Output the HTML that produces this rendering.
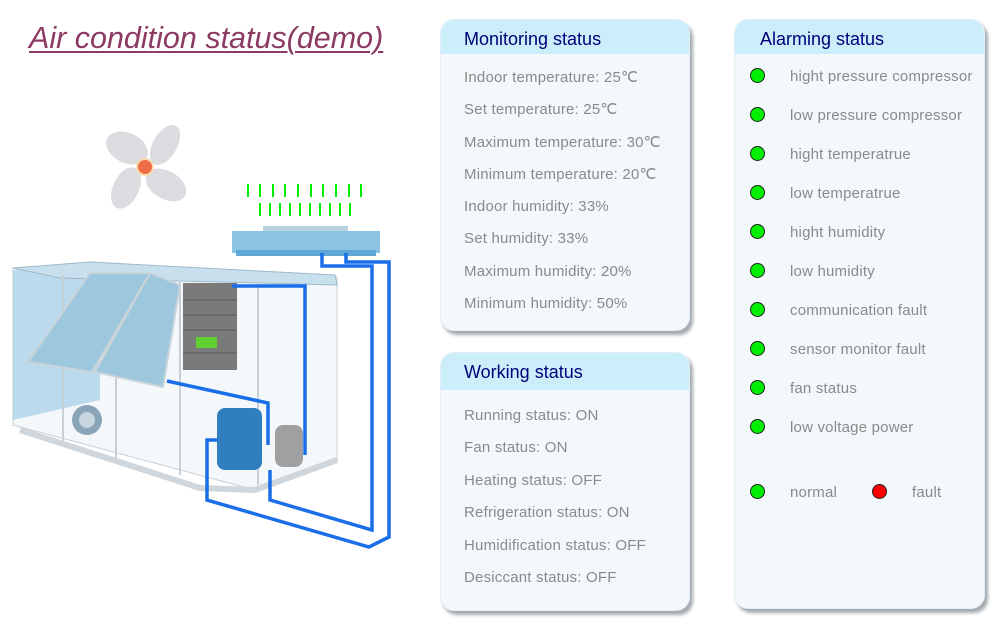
<!DOCTYPE html>
<html><head><meta charset="utf-8"><style>
body{margin:0;width:994px;height:620px;background:#fff;position:relative;overflow:hidden;font-family:"Liberation Sans",sans-serif}
.title{position:absolute;left:29px;top:21px;font-size:30.5px;font-style:italic;color:#8b3a62;text-decoration:underline;text-decoration-thickness:2px;text-underline-offset:3px;white-space:nowrap}
.panel{position:absolute;background:#f3f8fb;border-radius:14px;box-shadow:3px 4px 3px rgba(90,100,110,.55);overflow:hidden;border:1px solid #e2eef4}
.hd{background:#cbeefa;height:34px;color:#00007a;font-size:18px;line-height:38px;padding-left:23px}
.row{position:absolute;left:23px;font-size:15px;color:#8a8a8a;white-space:nowrap;letter-spacing:0.2px;margin-top:1px}
.dot{position:absolute;width:13px;height:13px;border-radius:50%;background:#00ee00;border:1px solid #222}
</style></head><body>
<div class="title">Air condition status(demo)</div>

<svg width="430" height="620" style="position:absolute;left:0;top:0">
<g fill="#dcdce0">
<ellipse cx="127" cy="148" rx="22" ry="15" transform="rotate(25 127 148)"/>
<ellipse cx="165" cy="145" rx="12" ry="22" transform="rotate(30 165 145)"/>
<ellipse cx="166" cy="185" rx="22" ry="14" transform="rotate(30 166 185)"/>
<ellipse cx="126" cy="188" rx="13" ry="22" transform="rotate(25 126 188)"/>
</g>
<circle cx="145" cy="167" r="9" fill="#f8dcb0"/><circle cx="145" cy="167" r="7" fill="#ef6d48"/>
<g stroke="#00ee00" stroke-width="2">
<path d="M248 184v13M260 184v13M273 184v13M285 184v13M298 184v13M311 184v13M323 184v13M336 184v13M349 184v13M361 184v13"/>
<path d="M260 203v13M270 203v13M280 203v13M290 203v13M300 203v13M310 203v13M320 203v13M330 203v13M340 203v13M350 203v13"/>
</g>
<rect x="263" y="226" width="85" height="7" fill="#b8d2e0"/>
<rect x="232" y="231" width="148" height="22" fill="#8cc4e6"/>
<rect x="236" y="250" width="140" height="6" fill="#5ea8d8"/>
<polygon points="13,268 337,277 337,460 255,490 13,425" fill="#f4f8fb" stroke="#c6cfd6"/>
<polygon points="13,270 100,270 100,400 13,420" fill="#a8d0ea" opacity=".75"/>
<polygon points="13,268 90,262 335,275 337,285 60,278" fill="#c8e0ee" stroke="#a0b8c8"/>
<g stroke="#c6cfd6" stroke-width="2"><path d="M63,275V445M116,275V460M180,280V475M258,285V485"/></g>
<path d="M20,430 L200,488 L255,490 L337,460" stroke="#cfd6dc" stroke-width="6" fill="none"/>
<polygon points="90,273 150,273 92,372 28,362" fill="#9cc7dc" stroke="#c8d4da" stroke-width="2"/>
<polygon points="150,273 180,285 163,387 95,372" fill="#9cc7dc" stroke="#c8d4da" stroke-width="2"/>
<rect x="183" y="283" width="54" height="87" fill="#7a7a7a"/>
<g stroke="#5a5a5a"><path d="M183,300H237M183,315H237M183,330H237M183,353H237"/></g>
<rect x="196" y="337" width="21" height="11" fill="#5fd030"/>
<circle cx="87" cy="420" r="15" fill="#8aa4b8"/><circle cx="87" cy="420" r="8" fill="#c8d6e0"/>
<rect x="217" y="408" width="45" height="62" rx="8" fill="#2f7fc0"/>
<rect x="275" y="425" width="28" height="42" rx="8" fill="#a0a0a0"/>
<g fill="none" stroke="#1a6ee8" stroke-width="3.5">
<path d="M322,253V266H372V530L270,500V470"/>
<path d="M346,253V262H389V537L369,547L207,500V440H217"/>
<path d="M232,286H305V455"/>
<path d="M167,381L268,403V445"/>
</g>
</svg>

<div class="panel" style="left:440px;top:19px;width:248px;height:310px">
<div class="hd">Monitoring status</div>
<div class="row" style="top:47px">Indoor temperature: 25℃</div>
<div class="row" style="top:79px">Set temperature: 25℃</div>
<div class="row" style="top:112px">Maximum temperature: 30℃</div>
<div class="row" style="top:144px">Minimum temperature: 20℃</div>
<div class="row" style="top:177px">Indoor humidity: 33%</div>
<div class="row" style="top:209px">Set humidity: 33%</div>
<div class="row" style="top:242px">Maximum humidity: 20%</div>
<div class="row" style="top:274px">Minimum humidity: 50%</div>
</div>

<div class="panel" style="left:440px;top:352px;width:248px;height:257px">
<div class="hd" style="height:37px">Working status</div>
<div class="row" style="top:53px">Running status: ON</div>
<div class="row" style="top:85px">Fan status: ON</div>
<div class="row" style="top:118px">Heating status: OFF</div>
<div class="row" style="top:150px">Refrigeration status: ON</div>
<div class="row" style="top:183px">Humidification status: OFF</div>
<div class="row" style="top:215px">Desiccant status: OFF</div>
</div>

<div class="panel" style="left:734px;top:19px;width:249px;height:588px">
<div class="hd" style="padding-left:25px">Alarming status</div>
<div class="dot" style="left:15px;top:48px"></div><div class="row" style="left:55px;top:47px">hight pressure compressor</div>
<div class="dot" style="left:15px;top:87px"></div><div class="row" style="left:55px;top:86px">low pressure compressor</div>
<div class="dot" style="left:15px;top:126px"></div><div class="row" style="left:55px;top:125px">hight temperatrue</div>
<div class="dot" style="left:15px;top:165px"></div><div class="row" style="left:55px;top:164px">low temperatrue</div>
<div class="dot" style="left:15px;top:204px"></div><div class="row" style="left:55px;top:203px">hight humidity</div>
<div class="dot" style="left:15px;top:243px"></div><div class="row" style="left:55px;top:242px">low humidity</div>
<div class="dot" style="left:15px;top:282px"></div><div class="row" style="left:55px;top:281px">communication fault</div>
<div class="dot" style="left:15px;top:321px"></div><div class="row" style="left:55px;top:320px">sensor monitor fault</div>
<div class="dot" style="left:15px;top:360px"></div><div class="row" style="left:55px;top:359px">fan status</div>
<div class="dot" style="left:15px;top:399px"></div><div class="row" style="left:55px;top:398px">low voltage power</div>
<div class="dot" style="left:15px;top:464px"></div><div class="row" style="left:55px;top:463px">normal</div>
<div class="dot" style="left:137px;top:464px;background:#f00"></div><div class="row" style="left:177px;top:463px">fault</div>
</div>
</body></html>
